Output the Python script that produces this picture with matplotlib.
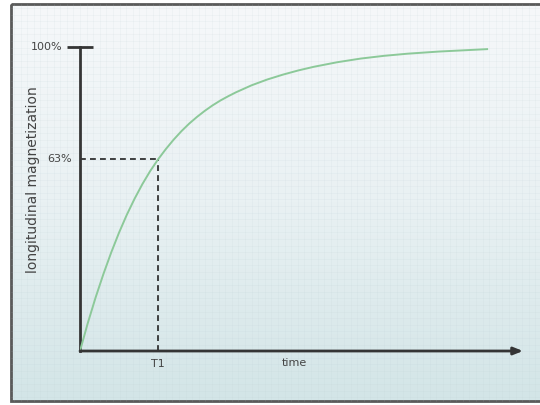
import numpy as np
import matplotlib
matplotlib.use('Agg')
import matplotlib.pyplot as plt
from matplotlib.patches import Rectangle
from matplotlib.colors import LinearSegmentedColormap

# T1 recovery curve
# time in units of T1, longitudinal magnetization in percent
time_t1 = [0, 0.1, 0.2, 0.3, 0.4, 0.5, 0.6, 0.7, 0.8, 0.9, 1.0,
           1.1, 1.2, 1.3, 1.4, 1.5, 1.6, 1.7, 1.8, 1.9, 2.0,
           2.2, 2.4, 2.6, 2.8, 3.0, 3.3, 3.6, 3.9, 4.2, 4.6, 5.22]
magnetization = [0, 9.2, 17.6, 25.3, 32.4, 38.9, 44.8, 50.1, 54.9, 59.2, 63.0,
                 66.4, 69.5, 72.3, 74.8, 77.0, 79.0, 80.8, 82.4, 83.8, 85.1,
                 87.4, 89.3, 90.9, 92.3, 93.5, 95.0, 96.2, 97.1, 97.8, 98.5, 99.3]

t1_time = 1.0
t1_level = 63
top_level = 100
x_max = 5.68
level_labels = ['63%', '100%']
x_tick_labels = ['T1']

ink = '#353535'
text_col = '#444444'

fig = plt.figure(figsize=(5.4, 4.05), dpi=100)

# -- background: framed panel with a soft vertical gradient and faint grid
bg = fig.add_axes([0, 0, 1, 1], zorder=0)
grad = np.linspace(0, 1, 256)[:, None]
cmap = LinearSegmentedColormap.from_list('panel', ['#f6f8fa', '#e9f1f3', '#d3e5e7'])
bg.imshow(grad, cmap=cmap, extent=[11, 545, 401, 4], aspect='auto')
for gx in np.arange(14, 545, 6.6):
    bg.plot([gx, gx], [4, 401], color='#b9cbd0', lw=0.4, alpha=0.2)
for gy in np.arange(8, 401, 6.6):
    bg.plot([11, 545], [gy, gy], color='#b9cbd0', lw=0.4, alpha=0.2)
bg.add_patch(Rectangle((11, 4), 534, 397, fill=False, ec='#5a5a5a', lw=2))
bg.set_xlim(0, 540)
bg.set_ylim(405, 0)
bg.axis('off')

# -- the plot itself
ax = fig.add_axes([80 / 540, 54 / 405, 443 / 540, 304 / 405], zorder=1)
ax.patch.set_alpha(0)
ax.set_xlim(0, x_max)
ax.set_ylim(0, 100)
for s in ['top', 'right', 'bottom']:
    ax.spines[s].set_visible(False)
ax.spines['left'].set_color(ink)
ax.spines['left'].set_linewidth(2)

ax.plot(time_t1, magnetization, color='#8cc999', lw=1.4, zorder=3)

# dashed guides to the 63% point
ax.plot([0, t1_time], [t1_level, t1_level], color='#222222', lw=1.2,
        ls=(0, (3.5, 2.5)), zorder=2)
ax.plot([t1_time, t1_time], [0, t1_level], color='#222222', lw=1.2,
        ls=(0, (3.5, 2.5)), zorder=2)

# time axis with arrow head
ax.annotate('', xy=(x_max, 0), xytext=(0, 0), annotation_clip=False,
            arrowprops=dict(arrowstyle='-|>,head_length=0.55,head_width=0.22',
                            color=ink, lw=2, shrinkA=0, shrinkB=0))
# 100% tick bar
ax.plot([-0.167, 0.167], [top_level, top_level], color=ink, lw=2,
        clip_on=False, solid_capstyle='butt')

ax.set_yticks([])
ax.text(-0.23, top_level, level_labels[1], ha='right', va='center',
        fontsize=8, color=text_col)
ax.text(-0.10, t1_level, level_labels[0], ha='right', va='center',
        fontsize=8, color=text_col)

ax.set_xticks([t1_time], x_tick_labels)
ax.tick_params(axis='x', length=0, pad=6, labelsize=8, labelcolor=text_col)
ax.set_xlabel('time', fontsize=8, color=text_col)
ax.xaxis.set_label_coords(0.485, -0.022)

ax.text(-0.106, 0.5625, 'longitudinal magnetization', transform=ax.transAxes,
        rotation=90, ha='center', va='center', fontsize=10, color=text_col)

fig.savefig('out.png', dpi=100)
